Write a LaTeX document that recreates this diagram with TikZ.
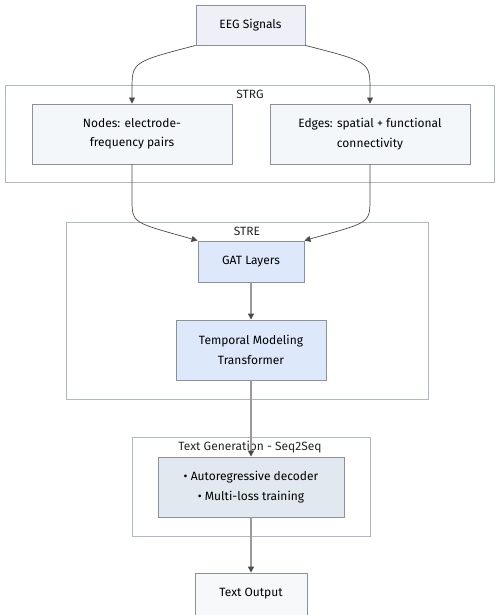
\documentclass[tikz,border=0pt]{standalone}
\usepackage{fontspec}
\setmainfont{Fira Sans}
\usetikzlibrary{arrows.meta}
\definecolor{boxA}{HTML}{EFEFF7}
\definecolor{boxB}{HTML}{F3F7FA}
\definecolor{boxC}{HTML}{DDE8FB}
\definecolor{boxD}{HTML}{E2E8F0}
\definecolor{boxE}{HTML}{F7F8FA}
\definecolor{bord}{HTML}{8A909C}
\definecolor{clbord}{HTML}{B2B8C2}
\definecolor{darkln}{HTML}{4A4A4A}
\definecolor{grayln}{HTML}{9A9A9A}
\tikzset{
  box/.style={draw=bord, line width=0.9pt, align=center, inner sep=0pt, font=\fontsize{12}{19.5}\selectfont, text=black},
  cluster/.style={draw=clbord, line width=0.9pt, fill=white, inner sep=0pt},
  cllabel/.style={font=\fontsize{12}{14}\selectfont, text=black!85, inner sep=0pt},
  conn/.style={draw=darkln, line width=0.7pt, -{Triangle[length=6pt,width=6pt]}},
  gconn/.style={draw=grayln, line width=1.3pt, -{Triangle[length=6pt,width=6pt,color=darkln]}}
}
\begin{document}
\begin{tikzpicture}[x=1pt,y=-1pt]
\useasboundingbox (0,0) rectangle (496,615);
\clip (0,0) rectangle (496,615);
% clusters
\node[cluster, minimum width=489pt, minimum height=97pt] (strg) at (249.5,133.5) {};
\node[cllabel] (strgl) at (250,94) {STRG};
\node[cluster, minimum width=362pt, minimum height=177pt] (stre) at (247,310.5) {};
\node[cllabel] (strel) at (247,231) {STRE};
\node[cluster, minimum width=238pt, minimum height=99pt] (tg) at (251,486.5) {};
\node[cllabel] (tgl) at (250,447) {Text Generation - Seq2Seq};
% nodes
\node[box, fill=boxA, minimum width=109pt, minimum height=40pt] (eeg) at (250.5,25) {EEG Signals};
\node[box, fill=boxB, minimum width=200pt, minimum height=60pt] (nd) at (132,134) {Nodes: electrode-\\frequency pairs};
\node[box, fill=boxB, minimum width=200pt, minimum height=60pt] (ed) at (370,134) {Edges: spatial + functional\\connectivity};
\node[box, fill=boxC, minimum width=106pt, minimum height=41pt] (gat) at (251,261.5) {GAT Layers};
\node[box, fill=boxC, minimum width=150pt, minimum height=60pt] (tm) at (251,350) {Temporal Modeling\\Transformer};
\node[box, fill=boxD, minimum width=186pt, minimum height=60pt] (ar) at (251,487) {• Autoregressive decoder\\• Multi-loss training};
\node[box, fill=boxE, minimum width=112pt, minimum height=42pt] (to) at (251,594) {Text Output};
% connectors
\draw[conn] (eeg.south west) .. controls (132,62) and (132,62) .. (132,90) -- (nd.north);
\draw[conn] (eeg.south east) .. controls (370,62) and (370,62) .. (370,90) -- (ed.north);
\draw[conn] (nd.south) -- (132,198) .. controls (132,224) and (132,222) .. (gat.north west);
\draw[conn] (ed.south) -- (370,198) .. controls (370,224) and (370,222) .. (gat.north east);
\draw[gconn] (gat.south) -- (tm.north);
\draw[gconn] (tm.south) -- (ar.north);
\draw[gconn] (ar.south) -- (to.north);
\end{tikzpicture}
\end{document}
